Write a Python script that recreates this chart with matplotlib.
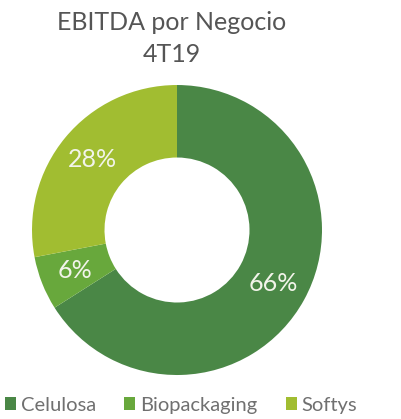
import numpy as np
import matplotlib.pyplot as plt
from matplotlib.patches import Patch

# EBITDA por negocio, 4T19
negocios = ['Celulosa', 'Biopackaging', 'Softys']
participacion = [66, 6, 28]
colores = ['#4a8746', '#68a83c', '#a1bd31']

plt.rcParams['font.family'] = ['Lato', 'DejaVu Sans']

fig = plt.figure(figsize=(4.02, 4.19), dpi=100)
ax = fig.add_axes([0.0796, 0.105, 0.7214, 0.6921])

wedges, _ = ax.pie(participacion, colors=colores, startangle=90, counterclock=False,
                   radius=1.0, wedgeprops=dict(width=0.5, linewidth=0))
ax.set_aspect('equal')
ax.set_xlim(-1, 1)
ax.set_ylim(-1, 1)

# etiquetas de porcentaje en el centro del anillo
for w, v in zip(wedges, participacion):
    ang = np.deg2rad((w.theta1 + w.theta2) / 2)
    ax.text(0.76 * np.cos(ang), 0.76 * np.sin(ang), f'{v}%', ha='center', va='center',
            color='#f2f4ea', fontsize=18)

fig.text(0.428, 0.947, 'EBITDA por Negocio', ha='center', va='center',
         fontsize=18, color='#555555')
fig.text(0.428, 0.87, '4T19', ha='center', va='center',
         fontsize=18, color='#555555')

handles = [Patch(facecolor=c, edgecolor='none') for c in colores]
fig.legend(handles, negocios, loc='center', bbox_to_anchor=(0.45, 0.033), ncol=3,
           frameon=False, fontsize=14.5, handlelength=0.55, handleheight=0.55,
           handletextpad=0.25, columnspacing=1.4, labelcolor='#707070')

fig.savefig('out.png', dpi=100)
